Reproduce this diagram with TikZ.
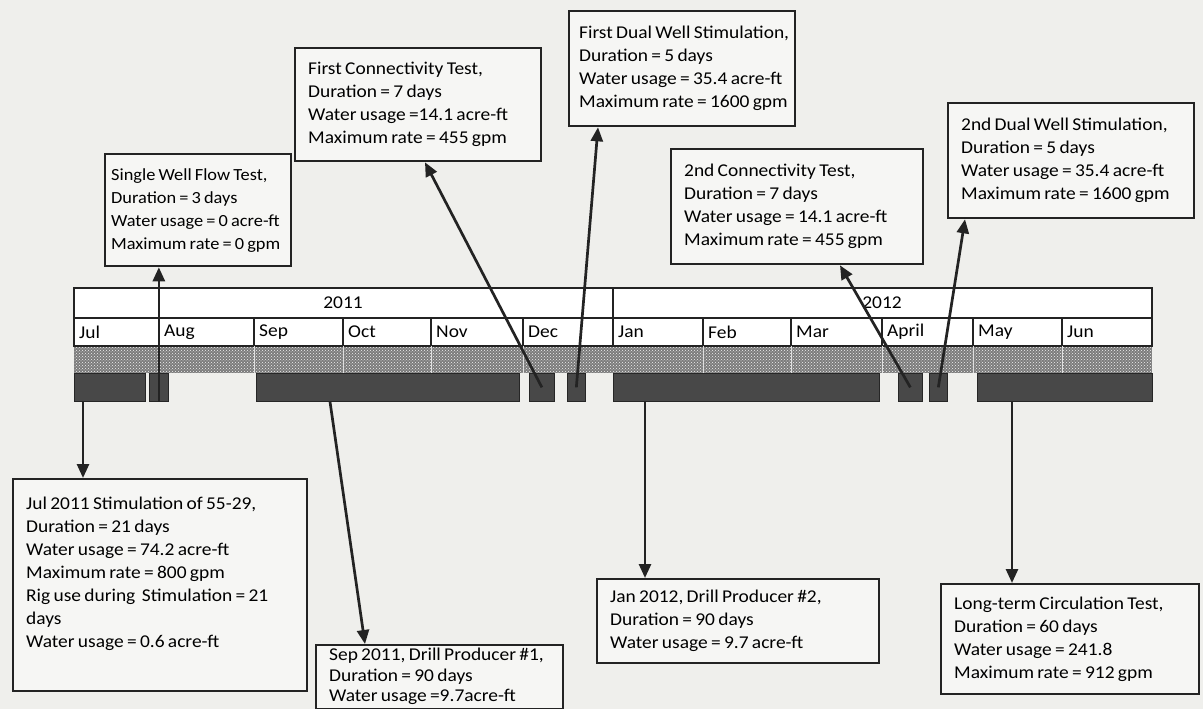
\documentclass[tikz,border=0pt]{standalone}
\usepackage{fontspec}
\setmainfont{Carlito}[WordSpace=0.75,FakeStretch=1.08]
\usetikzlibrary{arrows.meta,positioning,calc,patterns}
\definecolor{paper}{HTML}{EFEFEC}
\definecolor{boxfill}{HTML}{F6F6F4}
\definecolor{bardark}{HTML}{484848}
\definecolor{speckle}{HTML}{7C7C7C}
\definecolor{ink}{HTML}{232323}
\newcommand{\evlines}[2]{\makebox[#1][l]{\begin{tabular}{@{}l@{}}#2\end{tabular}}}
\tikzset{infobox/.style={draw=ink,line width=2.3pt,fill=boxfill,anchor=north west,inner xsep=13pt,inner ysep=4pt,font=\fontsize{18}{23}\selectfont},bar/.style={draw=black!85,fill=bardark,anchor=north west,minimum height=28pt,inner sep=0pt,line width=0.7pt},mon/.style={anchor=west,inner sep=0pt,font=\fontsize{18}{20}\selectfont},arrow/.style={-{Triangle[length=14pt,width=12pt]},line width=2.7pt,draw=ink}}
\begin{document}
\begin{tikzpicture}[x=1pt,y=-1pt]
\useasboundingbox[fill=paper] (0,0) rectangle (1203,709);
% schedule table
\fill[speckle] (74,346) rectangle (1152,373);
\fill[pattern=crosshatch dots,pattern color=white!90!gray] (74,346) rectangle (1152,373);
\fill[white] (74,288) rectangle (1152,346);
\draw[line width=1.6pt,draw=ink] (74,288) rectangle (1152,346) (74,318) -- (1152,318) (613,288) -- (613,346);
\foreach \x in {159,254,343,431,523,703,791,882,973,1062}{\draw[line width=1.2pt,draw=ink] (\x,318) -- (\x,346);\draw[line width=1pt,white!75!gray] (\x,346) -- (\x,373);}
\foreach \x/\m in {74/Jul,159/Aug,254/Sep,343/Oct,431/Nov,523/Dec,613/Jan,703/Feb,791/Mar,882/April,973/May,1062/Jun}{\node[mon] (m\m) at (\x+5,332) {\m};}
\node[mon,anchor=center] (y2011) at (343,303) {2011};
\node[mon,anchor=center] (y2012) at (882,303) {2012};
\foreach \n/\x/\w in {julbar/74/71,augbar/149/19,sepbar/256/263,decbarA/529/25,decbarB/567/18,janbar/613/266,aprbarA/898/24,aprbarB/929/18,maybar/977/175}{\node[bar,minimum width=\w pt] (\n) at (\x,373) {};}
% event boxes
\node[infobox,inner xsep=6pt,minimum height=112pt,font=\fontsize{17}{23}\selectfont] (flow) at (104,153) {\evlines{174pt}{Single Well Flow Test,\\Duration = 3 days\\Water usage = 0 acre-ft\\Maximum rate = 0 gpm}};
\node[infobox,minimum height=113pt] (conn1) at (294,47) {\evlines{220pt}{First Connectivity Test,\\Duration = 7 days\\Water usage =14.1 acre-ft\\Maximum rate = 455 gpm}};
\node[infobox,inner xsep=10pt,minimum height=115pt] (dual1) at (568,10) {\evlines{206pt}{First Dual Well Stimulation,\\Duration = 5 days\\Water usage = 35.4 acre-ft\\Maximum rate = 1600 gpm}};
\node[infobox,minimum height=115pt] (conn2) at (670,148) {\evlines{226pt}{2nd Connectivity Test,\\Duration = 7 days\\Water usage = 14.1 acre-ft\\Maximum rate = 455 gpm}};
\node[infobox,minimum height=115pt] (dual2) at (947,102) {\evlines{220pt}{2nd Dual Well Stimulation,\\Duration = 5 days\\Water usage = 35.4 acre-ft\\Maximum rate = 1600 gpm}};
\node[infobox,minimum height=212pt] (stim) at (12,478) {\evlines{268pt}{Jul 2011 Stimulation of 55-29,\\Duration = 21 days\\Water usage = 74.2 acre-ft\\Maximum rate = 800 gpm\\Rig use during\ \ Stimulation = 21\\days\\Water usage = 0.6 acre-ft\\{}}};
\node[infobox,minimum height=63pt,inner ysep=1pt,font=\fontsize{18}{20.5}\selectfont] (drill1) at (315,644) {\evlines{221pt}{Sep 2011, Drill Producer \#1,\\Duration = 90 days\\Water usage =9.7acre-ft}};
\node[infobox,minimum height=84pt] (drill2) at (596,578) {\evlines{256pt}{Jan 2012, Drill Producer \#2,\\Duration = 90 days\\Water usage = 9.7 acre-ft}};
\node[infobox,minimum height=110pt] (circ) at (940,583) {\evlines{232pt}{Long-term Circulation Test,\\Duration = 60 days\\Water usage = 241.8\\Maximum rate = 912 gpm}};
% connectors
\draw[arrow] (augbar.south) -- (augbar.south |- flow.south);
\draw[arrow] (decbarA.center) -- ([xshift=131pt]conn1.south west);
\draw[arrow] (decbarB.center) -- ([xshift=30pt]dual1.south west);
\draw[arrow] (aprbarA.center) -- ([xshift=170pt]conn2.south west);
\draw[arrow] (aprbarB.center) -- ([xshift=18pt]dual2.south west);
\draw[arrow] ([xshift=9pt]julbar.south west) -- ([xshift=9pt]julbar.south west |- stim.north);
\draw[arrow] ([xshift=74pt]sepbar.south west) -- ([xshift=50pt]drill1.north west);
\draw[arrow] ([xshift=32pt]janbar.south west) -- ([xshift=32pt]janbar.south west |- drill2.north);
\draw[arrow] ([xshift=35pt]maybar.south west) -- ([xshift=35pt]maybar.south west |- circ.north);
\end{tikzpicture}
\end{document}
